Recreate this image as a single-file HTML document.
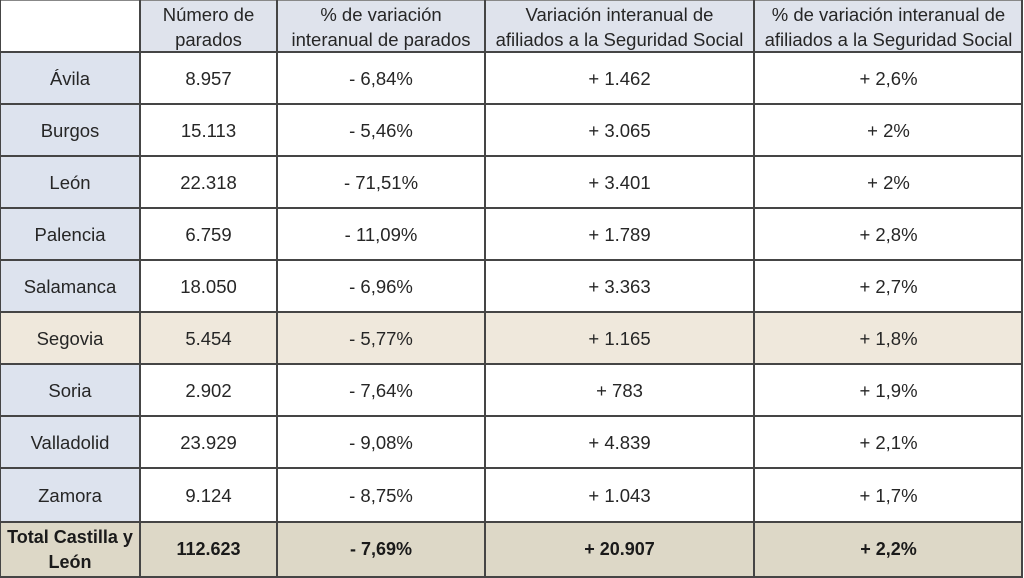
<!DOCTYPE html>
<html><head><meta charset="utf-8">
<style>
html,body{margin:0;padding:0;background:#fff;}
#t{position:relative;width:1024px;height:578px;overflow:hidden;font-family:"Liberation Sans",Arial,sans-serif;color:#262626;font-size:18.5px;}
.c{position:absolute;display:flex;align-items:center;justify-content:center;text-align:center;line-height:25px;}
.hd{padding-top:2px;box-sizing:border-box;}
.h{position:absolute;background:#454545;height:2px;left:0;width:1023px;}
.v{position:absolute;background:#454545;width:2px;top:0;height:578px;}
.b{font-weight:bold;color:#1a1a1a;font-size:18px;}
</style></head><body>
<div id="t">
<!-- backgrounds -->
<div style="position:absolute;left:140px;top:0;width:883px;height:52px;background:#dfe3ec"></div>
<div style="position:absolute;left:0;top:52px;width:140px;height:470px;background:#dde3ee"></div>
<div style="position:absolute;left:0;top:312px;width:1023px;height:52px;background:#efe8dc"></div>
<div style="position:absolute;left:0;top:522px;width:1023px;height:56px;background:#ddd8c7"></div>

<!-- header -->
<div class="c hd" style="left:140px;top:0;width:137px;height:52px">Número de<br>parados</div>
<div class="c hd" style="left:277px;top:0;width:208px;height:52px">% de variación<br>interanual de parados</div>
<div class="c hd" style="left:485px;top:0;width:269px;height:52px">Variación interanual de<br>afiliados a la Seguridad Social</div>
<div class="c hd" style="left:754px;top:0;width:269px;height:52px">% de variación interanual de<br>afiliados a la Seguridad Social</div>

<!-- rows -->
<div class="c" style="left:0;top:52px;width:140px;height:52px">Ávila</div>
<div class="c" style="left:140px;top:52px;width:137px;height:52px">8.957</div>
<div class="c" style="left:277px;top:52px;width:208px;height:52px">- 6,84%</div>
<div class="c" style="left:485px;top:52px;width:269px;height:52px">+ 1.462</div>
<div class="c" style="left:754px;top:52px;width:269px;height:52px">+ 2,6%</div>

<div class="c" style="left:0;top:104px;width:140px;height:52px">Burgos</div>
<div class="c" style="left:140px;top:104px;width:137px;height:52px">15.113</div>
<div class="c" style="left:277px;top:104px;width:208px;height:52px">- 5,46%</div>
<div class="c" style="left:485px;top:104px;width:269px;height:52px">+ 3.065</div>
<div class="c" style="left:754px;top:104px;width:269px;height:52px">+ 2%</div>

<div class="c" style="left:0;top:156px;width:140px;height:52px">León</div>
<div class="c" style="left:140px;top:156px;width:137px;height:52px">22.318</div>
<div class="c" style="left:277px;top:156px;width:208px;height:52px">- 71,51%</div>
<div class="c" style="left:485px;top:156px;width:269px;height:52px">+ 3.401</div>
<div class="c" style="left:754px;top:156px;width:269px;height:52px">+ 2%</div>

<div class="c" style="left:0;top:208px;width:140px;height:52px">Palencia</div>
<div class="c" style="left:140px;top:208px;width:137px;height:52px">6.759</div>
<div class="c" style="left:277px;top:208px;width:208px;height:52px">- 11,09%</div>
<div class="c" style="left:485px;top:208px;width:269px;height:52px">+ 1.789</div>
<div class="c" style="left:754px;top:208px;width:269px;height:52px">+ 2,8%</div>

<div class="c" style="left:0;top:260px;width:140px;height:52px">Salamanca</div>
<div class="c" style="left:140px;top:260px;width:137px;height:52px">18.050</div>
<div class="c" style="left:277px;top:260px;width:208px;height:52px">- 6,96%</div>
<div class="c" style="left:485px;top:260px;width:269px;height:52px">+ 3.363</div>
<div class="c" style="left:754px;top:260px;width:269px;height:52px">+ 2,7%</div>

<div class="c" style="left:0;top:312px;width:140px;height:52px">Segovia</div>
<div class="c" style="left:140px;top:312px;width:137px;height:52px">5.454</div>
<div class="c" style="left:277px;top:312px;width:208px;height:52px">- 5,77%</div>
<div class="c" style="left:485px;top:312px;width:269px;height:52px">+ 1.165</div>
<div class="c" style="left:754px;top:312px;width:269px;height:52px">+ 1,8%</div>

<div class="c" style="left:0;top:364px;width:140px;height:52px">Soria</div>
<div class="c" style="left:140px;top:364px;width:137px;height:52px">2.902</div>
<div class="c" style="left:277px;top:364px;width:208px;height:52px">- 7,64%</div>
<div class="c" style="left:485px;top:364px;width:269px;height:52px">+ 783</div>
<div class="c" style="left:754px;top:364px;width:269px;height:52px">+ 1,9%</div>

<div class="c" style="left:0;top:416px;width:140px;height:52px">Valladolid</div>
<div class="c" style="left:140px;top:416px;width:137px;height:52px">23.929</div>
<div class="c" style="left:277px;top:416px;width:208px;height:52px">- 9,08%</div>
<div class="c" style="left:485px;top:416px;width:269px;height:52px">+ 4.839</div>
<div class="c" style="left:754px;top:416px;width:269px;height:52px">+ 2,1%</div>

<div class="c" style="left:0;top:468px;width:140px;height:54px">Zamora</div>
<div class="c" style="left:140px;top:468px;width:137px;height:54px">9.124</div>
<div class="c" style="left:277px;top:468px;width:208px;height:54px">- 8,75%</div>
<div class="c" style="left:485px;top:468px;width:269px;height:54px">+ 1.043</div>
<div class="c" style="left:754px;top:468px;width:269px;height:54px">+ 1,7%</div>

<div class="c b" style="left:0;top:522px;width:140px;height:55px">Total Castilla y<br>León</div>
<div class="c b" style="left:140px;top:522px;width:137px;height:55px">112.623</div>
<div class="c b" style="left:277px;top:522px;width:208px;height:55px">- 7,69%</div>
<div class="c b" style="left:485px;top:522px;width:269px;height:55px">+ 20.907</div>
<div class="c b" style="left:754px;top:522px;width:269px;height:55px">+ 2,2%</div>

<!-- grid lines -->
<div class="h" style="top:0;height:1px;background:#888"></div>
<div class="h" style="top:51px"></div>
<div class="h" style="top:103px"></div>
<div class="h" style="top:155px"></div>
<div class="h" style="top:207px"></div>
<div class="h" style="top:259px"></div>
<div class="h" style="top:311px"></div>
<div class="h" style="top:363px"></div>
<div class="h" style="top:415px"></div>
<div class="h" style="top:467px"></div>
<div class="h" style="top:521px"></div>
<div class="h" style="top:576px"></div>
<div class="v" style="left:0;width:1px"></div>
<div class="v" style="left:139px"></div>
<div class="v" style="left:276px"></div>
<div class="v" style="left:484px"></div>
<div class="v" style="left:753px"></div>
<div class="v" style="left:1021px"></div>
</div>
</body></html>
